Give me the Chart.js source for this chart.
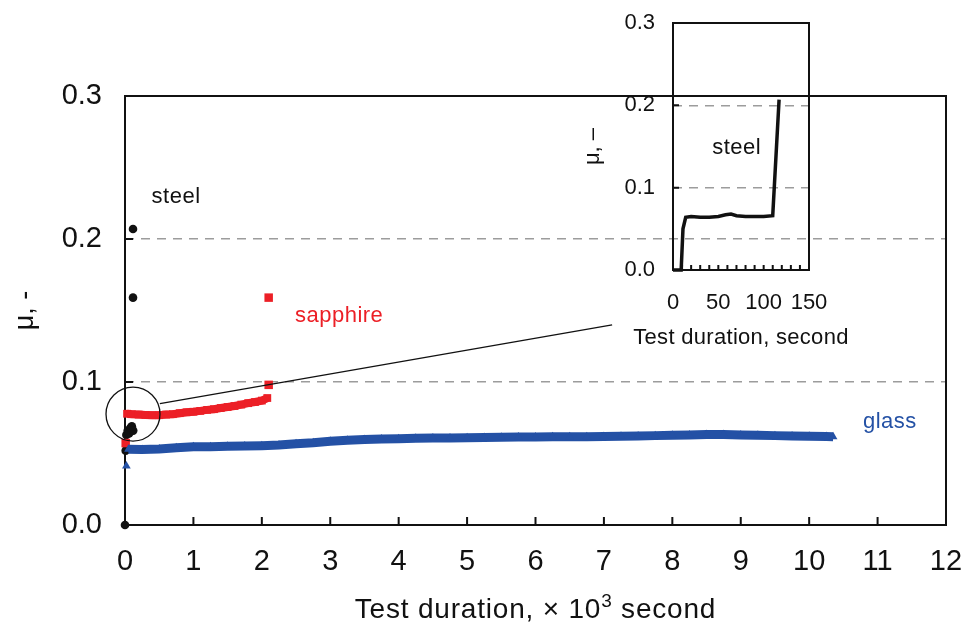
<!DOCTYPE html>
<html>
<head>
<meta charset="utf-8">
<script src="https://cdn.jsdelivr.net/npm/chart.js@4.4.1/dist/chart.umd.min.js"></script>
<style>
  html, body { margin: 0; padding: 0; background: #fff; }
  #wrap { position: relative; width: 968px; height: 628px; }
  #main { position: absolute; left: 0; top: 0; }
  #inset { position: absolute; left: 560px; top: 0; }
</style>
</head>
<body>
<div id="wrap">
  <canvas id="main" width="968" height="628"></canvas>
  <canvas id="inset" width="330" height="360"></canvas>
</div>
<script>
// axis ticks
const xTicks = [0, 1, 2, 3, 4, 5, 6, 7, 8, 9, 10, 11, 12];
const yTicks = [0, 0.1, 0.2, 0.3];
const insetXTicks = [0, 50, 100, 150];
const insetMinorTicks = [10, 20, 30, 40, 50, 60, 70, 80, 90, 100, 110, 120, 130, 140];

// glass (x 10^3 s, mu)
const glassX = [0.05, 0.25, 0.5, 0.75, 1.0, 1.25, 1.5, 1.75, 2.0, 2.25, 2.5, 2.75, 3.0, 3.25, 3.5, 3.75,
  4.0, 4.25, 4.5, 4.75, 5.0, 5.25, 5.5, 5.75, 6.0, 6.25, 6.5, 6.75, 7.0, 7.25, 7.5, 7.75,
  8.0, 8.25, 8.5, 8.75, 9.0, 9.25, 9.5, 9.75, 10.0, 10.25, 10.35];
const glassY = [0.0530, 0.0528, 0.0532, 0.0540, 0.0547, 0.0548, 0.0550, 0.0552, 0.0555, 0.0560, 0.0568, 0.0575,
  0.0585, 0.0592, 0.0598, 0.0602, 0.0604, 0.0606, 0.0608, 0.0609, 0.0610, 0.0612, 0.0613, 0.0615,
  0.0616, 0.0617, 0.0618, 0.0618, 0.0619, 0.0620, 0.0622, 0.0625, 0.0628, 0.0630, 0.0632, 0.0633,
  0.0630, 0.0628, 0.0625, 0.0622, 0.0620, 0.0619, 0.0618];
const glassStartX = [0.02];
const glassStartY = [0.0413];

// sapphire
const sapphireX = [0.03, 0.1, 0.2, 0.3, 0.4, 0.5, 0.6, 0.7, 0.8, 0.9, 1.0, 1.1, 1.2, 1.3, 1.4, 1.5,
  1.6, 1.7, 1.8, 1.9, 2.0, 2.08];
const sapphireY = [0.0778, 0.0775, 0.0772, 0.0770, 0.0768, 0.0768, 0.0772, 0.0775, 0.0782, 0.0788, 0.0792,
  0.0798, 0.0805, 0.0810, 0.0818, 0.0825, 0.0832, 0.0842, 0.0852, 0.0860, 0.0870, 0.0888];
const sapphireDotsX = [0.01, 2.1, 2.1];
const sapphireDotsY = [0.0573, 0.098, 0.159];

// steel
const steelX = [0, 0.01, 0.02, 0.04, 0.06, 0.08, 0.1, 0.12, 0.117, 0.117];
const steelY = [0, 0.052, 0.063, 0.066, 0.064, 0.068, 0.069, 0.066, 0.159, 0.207];

// steel, inset (s, mu)
const insetX = [0, 9, 11, 14, 20, 30, 40, 50, 58, 64, 70, 80, 90, 100, 110, 117];
const insetY = [0, 0, 0.05, 0.064, 0.065, 0.064, 0.064, 0.065, 0.067, 0.068, 0.066, 0.065, 0.065, 0.065, 0.066, 0.207];

const RED = '#ec1f26';
const BLUE = '#2451a5';
const INK = '#111';
const FONT = '"Liberation Sans", Arial, Helvetica, sans-serif';

const pts = (xs, ys) => xs.map((x, i) => ({ x, y: ys[i] }));
const near = (a, b) => Math.abs(a - b) < 1e-6;
const dashColor = (ctx) => (near(ctx.tick.value, 0.1) || near(ctx.tick.value, 0.2) ? '#9c9c9c' : 'rgba(0,0,0,0)');
const noPad = (s) => { s.paddingLeft = 0; s.paddingRight = 0; s.paddingTop = 0; s.paddingBottom = 0; };

// frame + inward ticks drawn under the marks
function framePlugin(id, xMinor, yMinor, xLen, yLen) {
  return {
    id,
    beforeDatasetsDraw(chart) {
      const { ctx, chartArea: a, scales: { x, y } } = chart;
      ctx.save();
      ctx.strokeStyle = INK;
      ctx.lineWidth = 2;
      ctx.strokeRect(a.left, a.top, a.right - a.left, a.bottom - a.top);
      ctx.beginPath();
      xMinor.forEach((v) => {
        const px = x.getPixelForValue(v);
        ctx.moveTo(px, a.bottom);
        ctx.lineTo(px, a.bottom - xLen);
      });
      yMinor.forEach((v) => {
        const py = y.getPixelForValue(v);
        ctx.moveTo(a.left, py);
        ctx.lineTo(a.left + yLen, py);
      });
      ctx.stroke();
      ctx.restore();
    },
  };
}

function textPlugin(id, items, size) {
  return {
    id,
    afterDatasetsDraw(chart) {
      const { ctx, scales: { x, y } } = chart;
      ctx.save();
      ctx.font = size + 'px ' + FONT;
      ctx.letterSpacing = '0.5px';
      ctx.textAlign = 'center';
      ctx.textBaseline = 'middle';
      items.forEach((t) => {
        ctx.fillStyle = t.color;
        ctx.fillText(t.text, x.getPixelForValue(t.x), y.getPixelForValue(t.y));
      });
      ctx.restore();
    },
  };
}

// x-axis title drawn by hand (superscript, and no squeezing to the plot width)
function xTitlePlugin(id, parts, baseline, spacing) {
  return {
    id,
    afterDraw(chart) {
      const { ctx, chartArea: a } = chart;
      ctx.save();
      ctx.fillStyle = INK;
      ctx.textBaseline = 'alphabetic';
      ctx.textAlign = 'left';
      ctx.letterSpacing = spacing;
      const widths = parts.map((p) => { ctx.font = p.size + 'px ' + FONT; return ctx.measureText(p.text).width; });
      let cx = (a.left + a.right) / 2 - widths.reduce((s, w) => s + w, 0) / 2;
      parts.forEach((p, i) => {
        ctx.font = p.size + 'px ' + FONT;
        ctx.fillText(p.text, cx, baseline - (p.rise || 0));
        cx += widths[i];
      });
      ctx.restore();
    },
  };
}

// circle around the start of the test, with a leader to the inset
const zoomCircle = { x: 0.117, y: 0.0776, r: 27 };
const leaderX = [0.51, 7.12];
const leaderY = [0.0849, 0.14];

const callout = {
  id: 'callout',
  afterDatasetsDraw(chart) {
    const { ctx, scales: { x, y } } = chart;
    ctx.save();
    ctx.strokeStyle = INK;
    ctx.lineWidth = 1.3;
    ctx.beginPath();
    ctx.arc(x.getPixelForValue(zoomCircle.x), y.getPixelForValue(zoomCircle.y), zoomCircle.r, 0, Math.PI * 2);
    ctx.stroke();
    ctx.beginPath();
    ctx.moveTo(x.getPixelForValue(leaderX[0]), y.getPixelForValue(leaderY[0]));
    ctx.lineTo(x.getPixelForValue(leaderX[1]), y.getPixelForValue(leaderY[1]));
    ctx.stroke();
    ctx.restore();
  },
};

new Chart(document.getElementById('main'), {
  type: 'scatter',
  data: {
    datasets: [
      {
        label: 'glass',
        data: pts(glassX, glassY),
        showLine: true,
        borderColor: BLUE,
        borderWidth: 9,
        backgroundColor: BLUE,
        pointStyle: 'triangle',
        pointRadius: 5,
        pointBorderWidth: 0,
        clip: false,
      },
      {
        label: 'glass start',
        data: pts(glassStartX, glassStartY),
        backgroundColor: BLUE,
        pointStyle: 'triangle',
        pointRadius: 5,
        pointBorderWidth: 0,
        clip: false,
      },
      {
        label: 'sapphire',
        data: pts(sapphireX, sapphireY),
        showLine: true,
        borderColor: RED,
        borderWidth: 8,
        backgroundColor: RED,
        pointStyle: 'rect',
        pointRadius: 5.5,
        pointBorderWidth: 0,
        clip: false,
      },
      {
        label: 'sapphire points',
        data: pts(sapphireDotsX, sapphireDotsY),
        backgroundColor: RED,
        pointStyle: 'rect',
        pointRadius: 6,
        pointBorderWidth: 0,
        clip: false,
      },
      {
        label: 'steel',
        data: pts(steelX, steelY),
        backgroundColor: INK,
        pointRadius: 4.3,
        pointBorderWidth: 0,
        clip: false,
      },
    ],
  },
  options: {
    responsive: false,
    animation: false,
    layout: { padding: { top: 96, right: 22, left: 0, bottom: 0 } },
    plugins: { legend: { display: false }, tooltip: { enabled: false } },
    scales: {
      x: {
        type: 'linear',
        min: 0,
        max: 12,
        afterFit: (s) => { s.height = 103; noPad(s); },
        afterBuildTicks: (s) => { s.ticks = xTicks.map((v) => ({ value: v })); },
        grid: { display: false, drawTicks: false },
        border: { display: false },
        ticks: { color: INK, padding: 20, maxRotation: 0, font: { family: FONT, size: 29 } },
      },
      y: {
        type: 'linear',
        min: 0,
        max: 0.3,
        afterFit: (s) => { s.width = 125; noPad(s); },
        afterBuildTicks: (s) => { s.ticks = yTicks.map((v) => ({ value: v })); },
        grid: { color: dashColor, lineWidth: 1.4, drawTicks: false },
        border: { display: false, dash: [9, 7] },
        ticks: { color: INK, padding: 23, callback: (v) => v.toFixed(1), font: { family: FONT, size: 29 } },
        title: {
          display: true,
          text: 'μ, -',
          color: INK,
          padding: { top: 9, bottom: 0 },
          font: { family: FONT, size: 27 },
        },
      },
    },
  },
  plugins: [
    framePlugin('mainFrame', xTicks.slice(1, -1), yTicks.slice(1, -1), 8, 8),
    callout,
    textPlugin('mainText', [
      { text: 'steel', x: 0.746, y: 0.2294, color: INK },
      { text: 'sapphire', x: 3.13, y: 0.1462, color: RED },
      { text: 'glass', x: 11.18, y: 0.072, color: BLUE },
    ], 22),
    xTitlePlugin('mainTitle', [
      { text: 'Test duration, × 10', size: 28 },
      { text: '3', size: 19, rise: 11 },
      { text: ' second', size: 28 },
    ], 618, '0.8px'),
  ],
});

new Chart(document.getElementById('inset'), {
  type: 'scatter',
  data: {
    datasets: [
      {
        label: 'steel',
        data: pts(insetX, insetY),
        showLine: true,
        borderColor: INK,
        borderWidth: 3.5,
        pointRadius: 0,
        clip: false,
      },
    ],
  },
  options: {
    responsive: false,
    animation: false,
    layout: { padding: { top: 23, right: 81, left: 0, bottom: 0 } },
    plugins: { legend: { display: false }, tooltip: { enabled: false } },
    scales: {
      x: {
        type: 'linear',
        min: 0,
        max: 150,
        afterFit: (s) => { s.height = 90; noPad(s); },
        afterBuildTicks: (s) => { s.ticks = insetXTicks.map((v) => ({ value: v })); },
        grid: { display: false, drawTicks: false },
        border: { display: false },
        ticks: { color: INK, padding: 20, maxRotation: 0, font: { family: FONT, size: 22 } },
      },
      y: {
        type: 'linear',
        min: 0,
        max: 0.3,
        afterFit: (s) => { s.width = 113; noPad(s); },
        afterBuildTicks: (s) => { s.ticks = yTicks.map((v) => ({ value: v })); },
        grid: { color: dashColor, lineWidth: 1.4, drawTicks: false },
        border: { display: false, dash: [9, 7] },
        ticks: { color: INK, padding: 18, callback: (v) => v.toFixed(1), font: { family: FONT, size: 22 } },
        title: {
          display: true,
          text: 'μ, –',
          color: INK,
          padding: { top: 20, bottom: 0 },
          font: { family: FONT, size: 22 },
        },
      },
    },
  },
  plugins: [
    framePlugin('insetFrame', insetMinorTicks, yTicks.slice(1, -1), 5, 6),
    textPlugin('insetText', [{ text: 'steel', x: 70.2, y: 0.148, color: INK }], 22),
    xTitlePlugin('insetTitle', [{ text: 'Test duration, second', size: 22 }], 344, '0.3px'),
  ],
});
</script>
</body>
</html>
